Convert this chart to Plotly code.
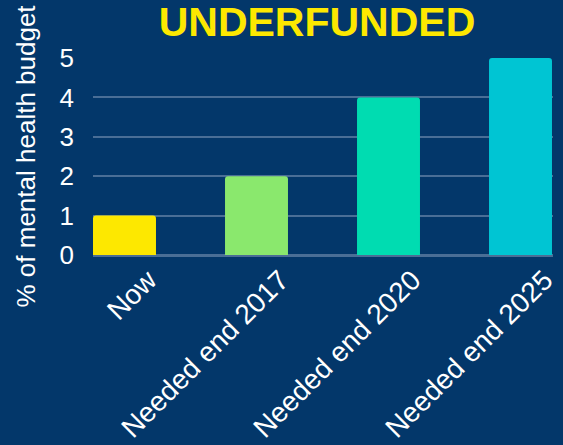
import plotly.graph_objects as go

categories = ["Now", "Needed end 2017", "Needed end 2020", "Needed end 2025"]
values = [1, 2, 4, 5]
bar_colors = ["#FDE800", "#8AE86D", "#00DCB1", "#00C5D3"]
y_ticks = [0, 1, 2, 3, 4, 5]
title_text = "UNDERFUNDED"
y_title = "% of mental health budget"

BG = "#03376A"
GRID = "#4A6E96"

fig = go.Figure(
    go.Bar(
        x=categories,
        y=values,
        marker=dict(color=bar_colors, line=dict(width=0), cornerradius=3),
        width=0.477,
    )
)

fig.update_layout(
    width=563,
    height=445,
    margin=dict(l=93, r=10, t=58, b=190, autoexpand=False),
    paper_bgcolor=BG,
    plot_bgcolor=BG,
    showlegend=False,
    font=dict(family="Liberation Sans, Arial, sans-serif", color="white"),
    title=dict(
        text="<b>" + title_text + "</b>",
        font=dict(family="Liberation Sans, Arial, sans-serif", size=41, color="#FDE800"),
        x=317 / 563,
        xanchor="center",
        y=1 - 36 / 445,
        yanchor="bottom",
        yref="container",
    ),
)

fig.update_xaxes(
    range=[-0.2386, 3.2462],
    tickangle=-45,
    tickfont=dict(size=28, color="white"),
    showgrid=False,
    zeroline=False,
    showline=False,
    ticklabelshift=24,
    ticklabelstandoff=2,
    automargin=False,
)

fig.update_yaxes(
    range=[0, 5],
    tickvals=y_ticks,
    tickfont=dict(size=26, color="white"),
    showgrid=True,
    gridcolor=GRID,
    gridwidth=2,
    zeroline=True,
    zerolinecolor=GRID,
    zerolinewidth=3,
    ticklabelstandoff=18,
    automargin=False,
)

fig.add_annotation(
    text=y_title,
    xref="paper",
    yref="paper",
    x=(25 - 93) / 460,
    y=0.5,
    xanchor="center",
    yanchor="middle",
    textangle=-90,
    showarrow=False,
    font=dict(size=26, color="white"),
)

fig.write_html("out.html")
